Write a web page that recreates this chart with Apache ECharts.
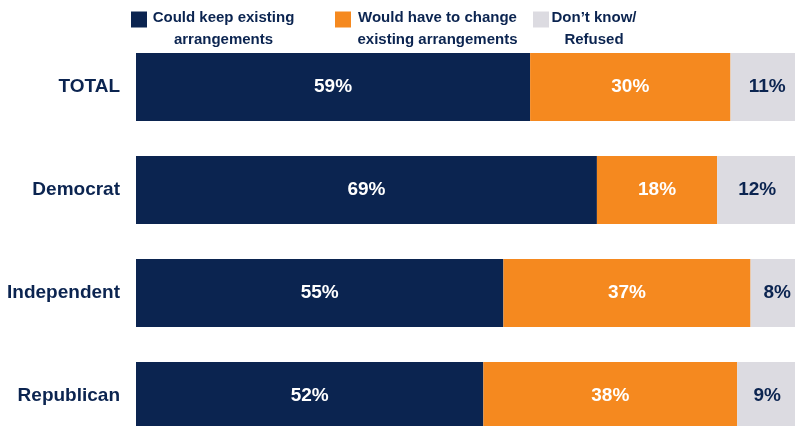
<!DOCTYPE html>
<html>
<head>
<meta charset="utf-8">
<script src="https://cdn.jsdelivr.net/npm/echarts@6/dist/echarts.min.js"></script>
<style>
  html, body { margin: 0; padding: 0; background: #fff; }
  #chart { width: 795px; height: 426px; }
</style>
</head>
<body>
<div id="chart"></div>
<script>
const categories = ['TOTAL', 'Democrat', 'Independent', 'Republican']
const seriesNames = ['Could keep existing\narrangements', 'Would have to change\nexisting arrangements', 'Don\u2019t know/\nRefused']
const keepValues = [59, 69, 55, 52]
const changeValues = [30, 18, 37, 38]
const dkValues = [11, 12, 8, 9]

const navy = '#0b2450'
const colors = [navy, '#f5891f', '#dcdbe1']
const legendLeft = [131, 335, 533]
const legendTextWidth = [143, 163, 80]

const chart = echarts.init(document.getElementById('chart'))

function makeLegend(i) {
  return {
    left: legendLeft[i],
    top: 10,
    padding: 0,
    itemWidth: 16,
    itemHeight: 16,
    itemGap: 0,
    selectedMode: false,
    icon: 'rect',
    data: [seriesNames[i]],
    formatter: name => name.split('\n').map(s => '{a|' + s + '}').join('\n'),
    textStyle: {
      color: navy,
      padding: [18, 0, 0, 0],
      rich: {
        a: {
          width: legendTextWidth[i],
          align: 'center',
          lineHeight: 22,
          fontFamily: '"Liberation Sans", Arial, sans-serif',
          fontWeight: 'bold',
          fontSize: 15,
          color: navy
        }
      }
    }
  }
}

function makeSeries(i, data) {
  return {
    name: seriesNames[i],
    type: 'bar',
    stack: 'total',
    barWidth: 68,
    data: data,
    itemStyle: { color: colors[i] },
    label: {
      show: true,
      position: 'inside',
      formatter: '{c}%',
      color: i === 2 ? navy : '#fff',
      fontFamily: '"Liberation Sans", Arial, sans-serif',
      fontWeight: 'bold',
      fontSize: 19
    },
    silent: true,
    animation: false
  }
}

chart.setOption({
  animation: false,
  legend: [makeLegend(0), makeLegend(1), makeLegend(2)],
  grid: {
    left: 136,
    top: 35.5,
    width: 668,
    height: 412,
    outerBoundsMode: 'none'
  },
  xAxis: {
    type: 'value',
    min: 0,
    max: 100,
    show: false
  },
  yAxis: {
    type: 'category',
    inverse: true,
    data: categories,
    axisLine: { show: false },
    axisTick: { show: false },
    axisLabel: {
      margin: 16,
      color: navy,
      fontFamily: '"Liberation Sans", Arial, sans-serif',
      fontWeight: 'bold',
      fontSize: 19
    }
  },
  series: [
    makeSeries(0, keepValues),
    makeSeries(1, changeValues),
    makeSeries(2, dkValues)
  ]
})
</script>
</body>
</html>
